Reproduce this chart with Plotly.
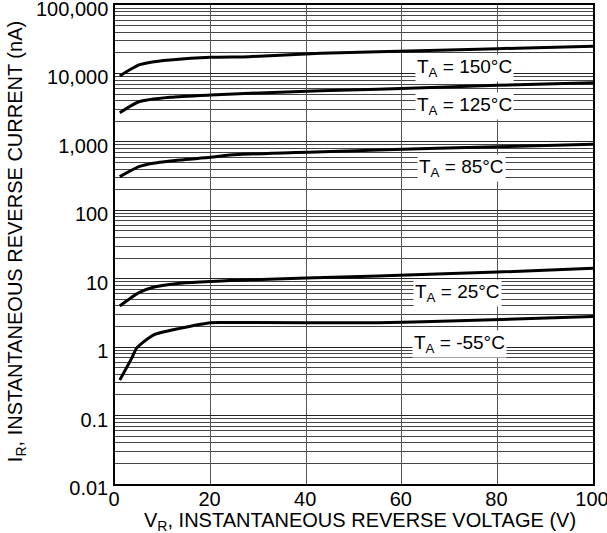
import math
import plotly.graph_objects as go

# Data (V in volts, I in nA)
v_150 = [1, 5, 7.5, 11.5, 20, 28, 43, 55, 80, 100]
i_150 = [9200, 13300, 14600, 15700, 17200, 17600, 19700, 20800, 23000, 25000]

v_125 = [1, 5, 11.5, 20, 43, 55, 80, 100]
i_125 = [2670, 3860, 4480, 4840, 5600, 5860, 6700, 7330]

v_85 = [1, 5, 8, 13.6, 20, 24, 55, 80, 100]
i_85 = [310, 434, 487, 543, 594, 643, 760, 850, 920]

v_25 = [1, 5, 8, 13.6, 20, 24, 55, 80, 100]
i_25 = [4.0, 6.25, 7.5, 8.6, 9.1, 9.4, 11.0, 12.5, 14.2]

v_m55 = [1, 3.5, 4.5, 8, 13.6, 20, 24, 55, 70, 100]
i_m55 = [0.33, 0.69, 0.96, 1.5, 1.88, 2.28, 2.29, 2.28, 2.4, 2.8]

series = [
    (v_150, i_150), (v_125, i_125), (v_85, i_85), (v_25, i_25), (v_m55, i_m55)
]

labels = ["T<sub>A</sub> = 150°C", "T<sub>A</sub> = 125°C", "T<sub>A</sub> = 85°C",
          "T<sub>A</sub> = 25°C", "T<sub>A</sub> = -55°C"]
label_x = [73.2, 73.2, 72.5, 71.6, 72.0]
label_y = [12000, 3290, 415, 6.2, 1.13]

y_tickvals = [0.01, 0.1, 1, 10, 100, 1000, 10000, 100000]
y_ticktext = ["0.01", "0.1", "1", "10", "100", "1,000", "10,000", "100,000"]
x_tickvals = [0, 20, 40, 60, 80, 100]

x_title = "V<sub>R</sub>, INSTANTANEOUS REVERSE VOLTAGE (V)"
y_title = "I<sub>R</sub>, INSTANTANEOUS REVERSE CURRENT (nA)"

minor_vals = [m * 10 ** e for e in range(-2, 5) for m in range(2, 10)]

FONT = "Liberation Sans, Arial, sans-serif"

fig = go.Figure()
for vx, iy in series:
    fig.add_trace(go.Scatter(x=vx, y=iy, mode="lines",
                             line=dict(color="black", width=3, shape="spline", smoothing=0.6),
                             showlegend=False, hoverinfo="skip", cliponaxis=False))

for txt, lx, ly in zip(labels, label_x, label_y):
    fig.add_annotation(x=lx, y=math.log10(ly), text=txt, showarrow=False,
                       font=dict(family=FONT, size=19, color="black"),
                       bgcolor="white", borderpad=1)

# axis titles
fig.add_annotation(xref="paper", yref="paper", x=0.5126, y=-0.078,
                   xanchor="center", yanchor="middle", text=x_title, showarrow=False,
                   font=dict(family=FONT, size=20, color="black"))
fig.add_annotation(xref="paper", yref="paper", x=-0.207, y=0.505,
                   xanchor="center", yanchor="middle", text=y_title, showarrow=False,
                   textangle=-90, font=dict(family=FONT, size=20, color="black"))

fig.update_layout(
    width=607, height=533,
    margin=dict(l=115, r=14, t=5, b=49),
    paper_bgcolor="white", plot_bgcolor="white",
    font=dict(family=FONT, size=20, color="black"),
)
fig.update_xaxes(
    range=[0, 100], tickvals=x_tickvals, ticks="", showgrid=True,
    gridcolor="#555555", gridwidth=1.2, zeroline=False,
    showline=True, linecolor="black", linewidth=1.5, mirror=True,
    tickfont=dict(size=20), automargin=False, ticklabeloverflow="allow",
    ticklabelstandoff=-4, ticklabelshift=-1,
)
fig.update_yaxes(
    type="log", range=[-2.0002, 5.0002], tickvals=y_tickvals, ticktext=y_ticktext,
    ticks="", showgrid=True, gridcolor="#222222", gridwidth=1.2, zeroline=False,
    showline=True, linecolor="black", linewidth=1.5, mirror=True,
    minor=dict(tickvals=minor_vals, showgrid=True, gridcolor="#444444", gridwidth=1, ticks=""),
    tickfont=dict(size=20), automargin=False, ticklabeloverflow="allow",
    ticklabelshift=4, ticklabelstandoff=1,
)

fig.write_html("out.html", config={"displayModeBar": False},
               post_script="document.body.style.margin='0';document.body.style.overflow='hidden';")
